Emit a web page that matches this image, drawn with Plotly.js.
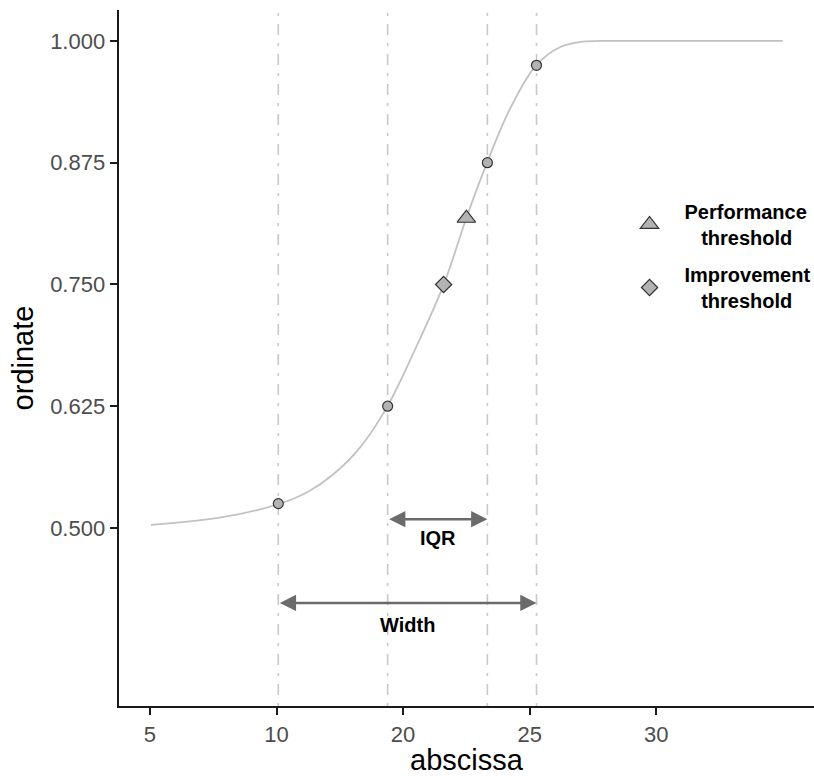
<!DOCTYPE html>
<html><head><meta charset="utf-8">
<script src="https://cdn.plot.ly/plotly-3.0.1.min.js"></script>
<style>html,body{margin:0;padding:0;background:#fff}</style>
</head><body><div id="chart" style="width:814px;height:776px"></div>
<script>
// fitted curve (axis units)
const curveX = [5.04, 7.92, 10.09, 11.23, 12.26, 13.32, 14.39, 15.41, 16.60, 17.50, 18.33, 19.24, 20.27, 21.21, 22.00, 22.79, 26.34, 30.00];
const curveY = [0.5031, 0.5113, 0.5246, 0.5370, 0.5554, 0.5832, 0.6253, 0.6797, 0.7495, 0.8183, 0.8758, 0.9312, 0.9754, 0.9938, 0.9990, 1.0, 1.0, 1.0];
// quantile points (5%, 25%, 75%, 95%)
const quantileX = [10.07, 14.39, 18.33, 20.27];
const quantileY = [0.525, 0.625, 0.875, 0.975];
// thresholds
const perfX = [17.50], perfY = [0.818];
const impX = [16.60], impY = [0.750];
// annotation levels
const iqrArrowY = 0.509, iqrLabelY = 0.490;
const widthArrowY = 0.423, widthLabelY = 0.400;
// ticks
const xTickVals = [5, 10, 15, 20, 25];
const xTickText = ['5', '10', '20', '25', '30'];
const yTickVals = [0.500, 0.625, 0.750, 0.875, 1.000];
const yTickText = ['0.500', '0.625', '0.750', '0.875', '1.000'];

const FONT = 'Liberation Sans, Arial, Helvetica, sans-serif';
const nb = '\u00A0';

const traces = [
  {x: curveX, y: curveY, type: 'scatter', mode: 'lines', line: {color: '#c2c2c2', width: 1.8, shape: 'spline', smoothing: 1}, showlegend: false, hoverinfo: 'skip'},
  {x: quantileX, y: quantileY, type: 'scatter', mode: 'markers', marker: {symbol: 'circle', size: 10, color: '#b3b3b3', line: {color: '#333333', width: 1.2}}, showlegend: false},
  {x: perfX, y: perfY, type: 'scatter', mode: 'markers', legendgroup: 'p', name: '<b>Performance</b><br><b>' + nb+nb+nb + 'threshold</b>', marker: {symbol: 'triangle-up', size: 16, color: '#b3b3b3', line: {color: '#333333', width: 1.2}}},
  {x: impX, y: impY, type: 'scatter', mode: 'markers', legendgroup: 'i', name: '<b>Improvement</b><br><b>' + nb+nb+nb + 'threshold</b>', marker: {symbol: 'diamond', size: 12.5, color: '#b3b3b3', line: {color: '#333333', width: 1.2}}}
];

const shapes = quantileX.map(q => ({type: 'line', xref: 'x', yref: 'paper', x0: q, x1: q, y0: 0, y1: 1, layer: 'below', line: {color: '#c8c8c8', width: 1.6, dash: '3px,8px,11px,8px'}}));

function arrow(x0, x1, y) {
  return {xref: 'x', yref: 'y', axref: 'x', ayref: 'y', x: x1, y: y, ax: x0, ay: y, text: '', showarrow: true,
    arrowside: 'end+start', arrowhead: 2, startarrowhead: 2, arrowsize: 1.25, startarrowsize: 1.25, arrowwidth: 2.6, arrowcolor: '#6b6b6b', standoff: 0, startstandoff: 0};
}
const annotations = [
  arrow(quantileX[1], quantileX[2], iqrArrowY),
  arrow(quantileX[0], quantileX[3], widthArrowY),
  {xref: 'x', yref: 'y', x: (quantileX[1] + quantileX[2]) / 2, y: iqrLabelY, text: '<b>IQR</b>', showarrow: false, font: {family: FONT, size: 20, color: '#000'}},
  {xref: 'x', yref: 'y', x: (quantileX[0] + quantileX[3]) / 2, y: widthLabelY, text: '<b>Width</b>', showarrow: false, font: {family: FONT, size: 20, color: '#000'}}
];

const layout = {
  width: 814, height: 776,
  margin: {l: 119, r: 0, t: 10, b: 70, autoexpand: false},
  paper_bgcolor: '#fff', plot_bgcolor: '#fff',
  font: {family: FONT},
  xaxis: {range: [3.777, 31.233], tickvals: xTickVals, ticktext: xTickText, showgrid: false, zeroline: false,
    showline: true, linecolor: '#1a1a1a', linewidth: 2.4, ticks: 'outside', ticklen: 7, tickwidth: 2, tickcolor: '#1a1a1a',
    tickfont: {family: FONT, size: 22, color: '#4d4d4d'},
    title: {text: 'abscissa', font: {family: FONT, size: 29, color: '#000'}, standoff: 11}},
  yaxis: {range: [0.3172, 1.0318], tickvals: yTickVals, ticktext: yTickText, showgrid: false, zeroline: false,
    showline: true, linecolor: '#1a1a1a', linewidth: 2.4, ticks: 'outside', ticklen: 7, tickwidth: 2, tickcolor: '#1a1a1a',
    tickfont: {family: FONT, size: 22, color: '#4d4d4d'},
    title: {text: 'ordinate', font: {family: FONT, size: 29, color: '#000'}, standoff: 8}},
  showlegend: true,
  legend: {x: 0.713, y: 0.6466, xanchor: 'left', yanchor: 'middle', bgcolor: 'rgba(0,0,0,0)', borderwidth: 0,
    itemwidth: 60, tracegroupgap: 8, font: {family: FONT, size: 20, color: '#000'}},
  shapes: shapes,
  annotations: annotations
};

Plotly.newPlot('chart', traces, layout, {displayModeBar: false, staticPlot: true});
</script></body></html>
